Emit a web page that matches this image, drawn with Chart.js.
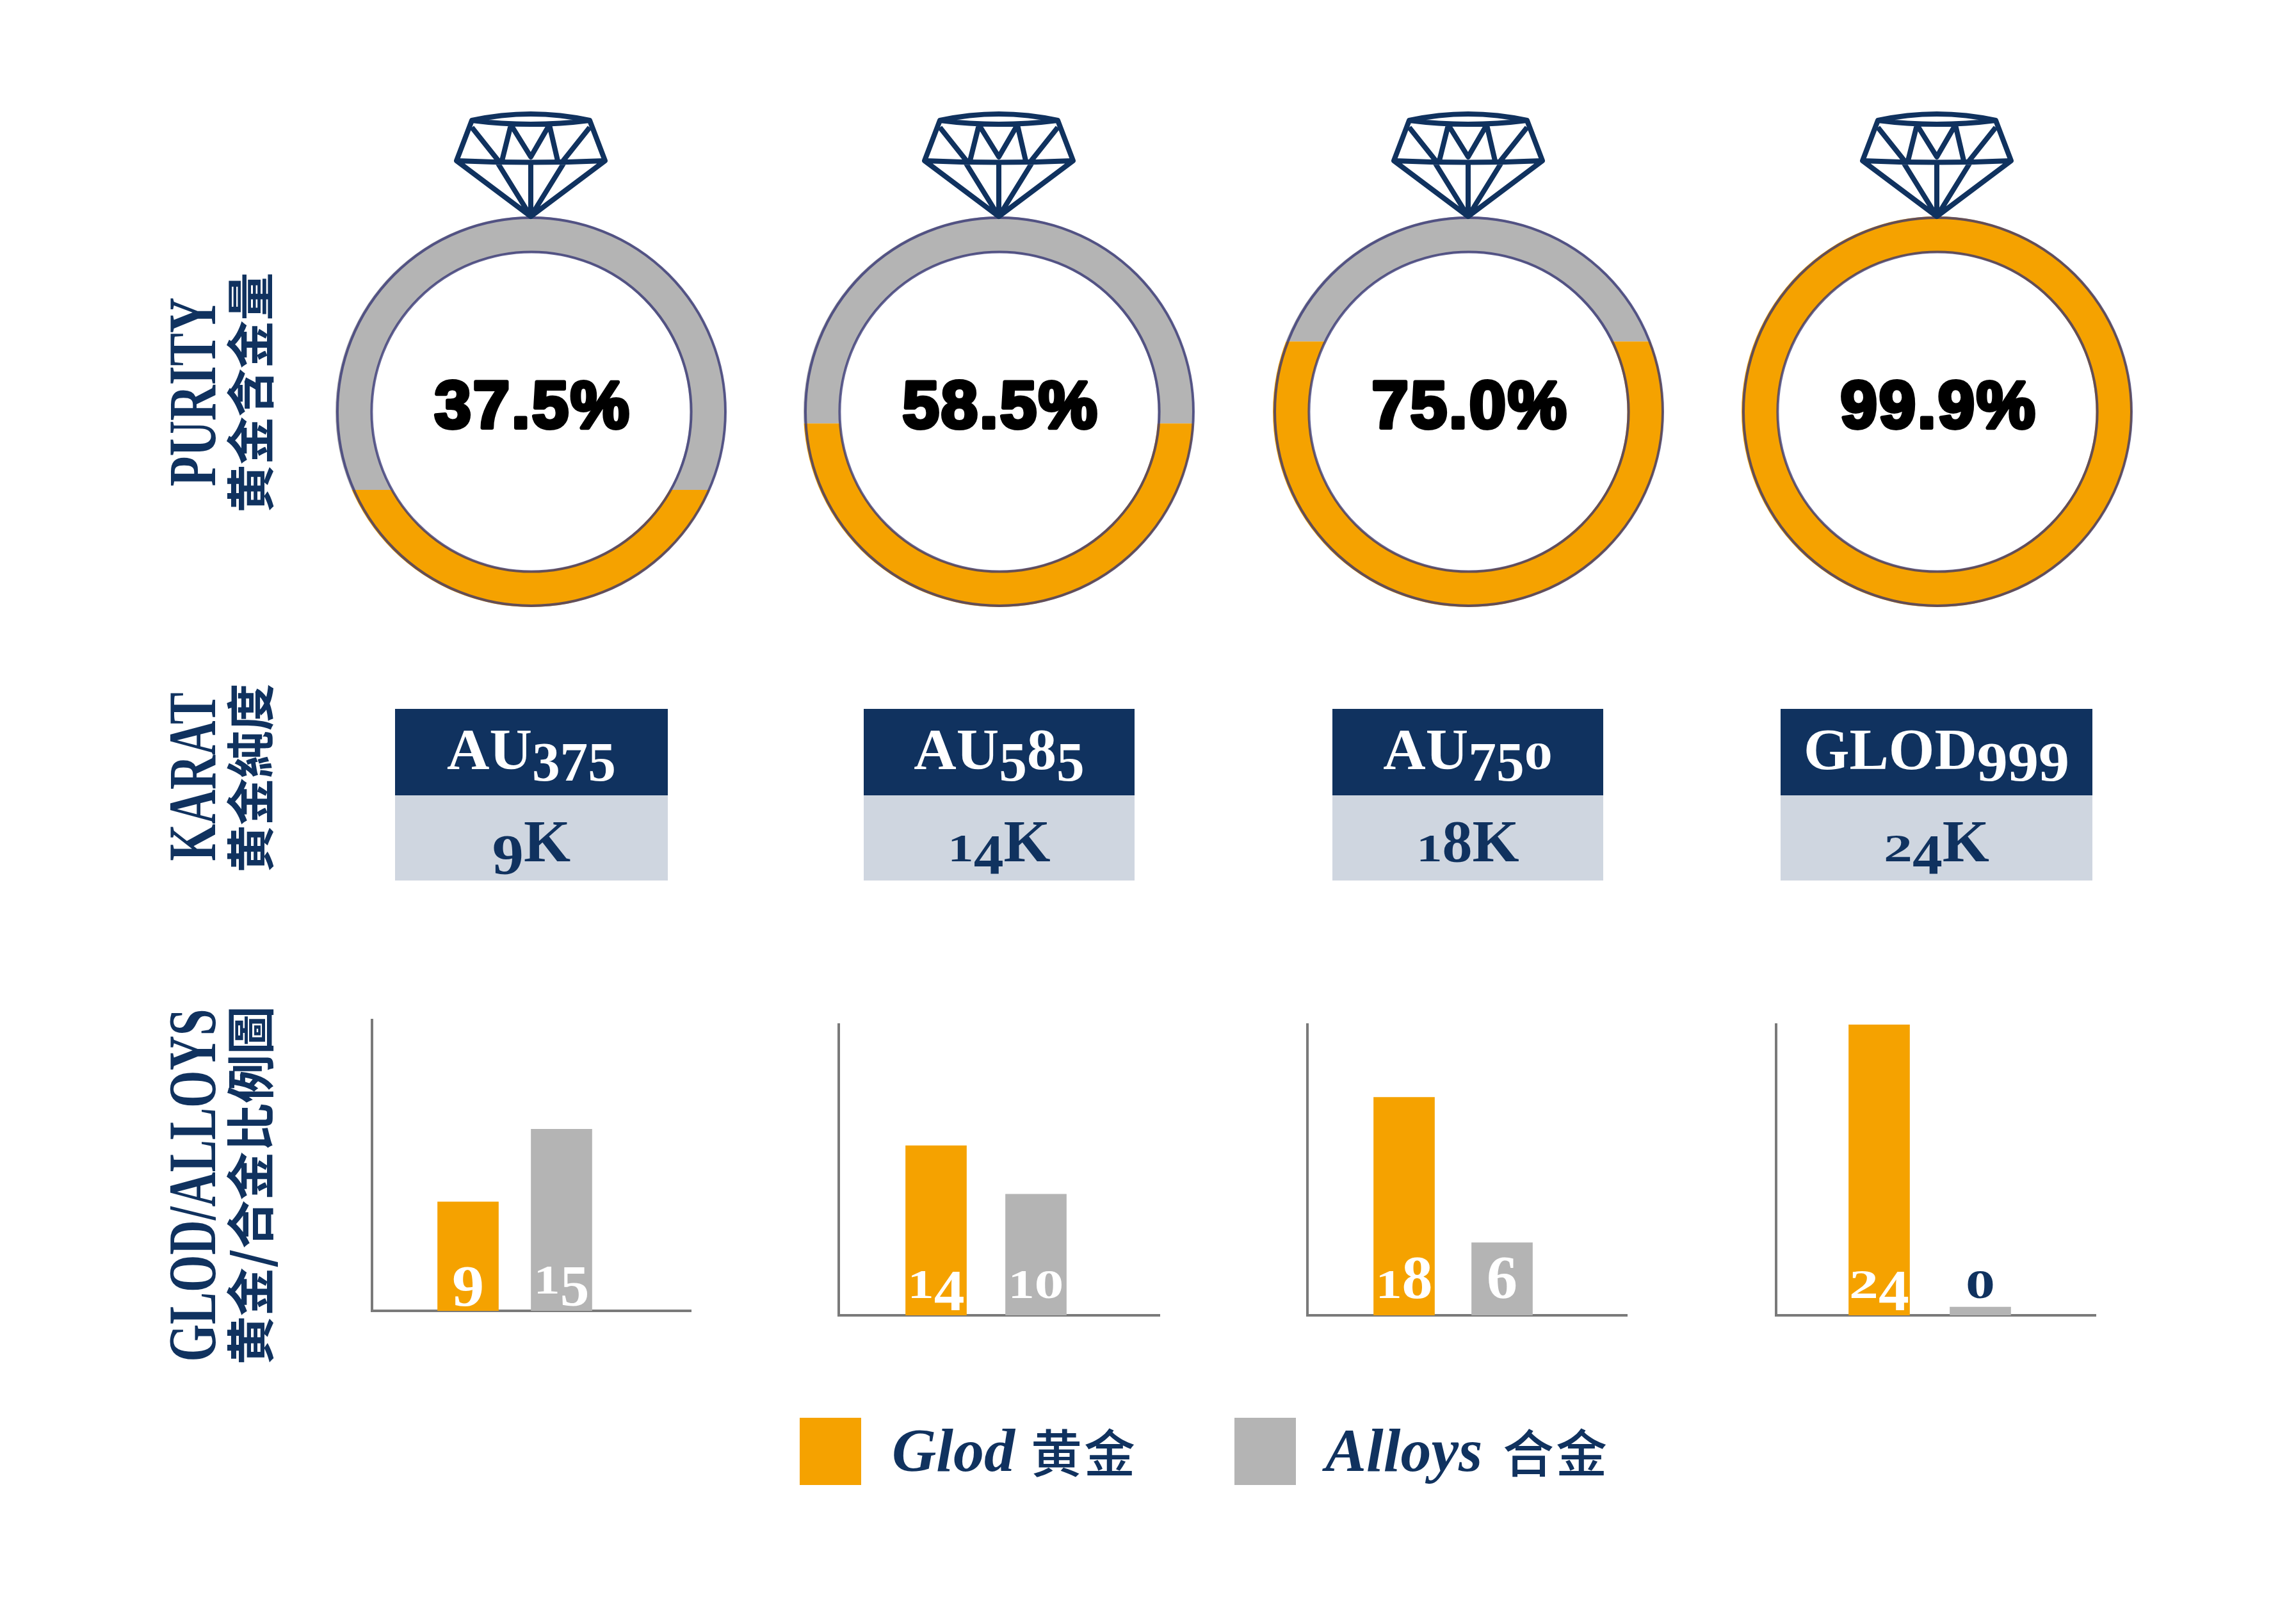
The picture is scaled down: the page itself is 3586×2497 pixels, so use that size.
<!DOCTYPE html>
<html>
<head>
<meta charset="utf-8">
<title>Gold purity</title>
<script src="https://cdn.jsdelivr.net/npm/chart.js@4/dist/chart.umd.min.js"></script>
<style>
  html, body { margin: 0; padding: 0; background: #fff; }
  #page { position: relative; width: 3586px; height: 2497px; overflow: hidden; }
  #page canvas { position: absolute; }
  #labels { position: absolute; left: 0; top: 0; }
</style>
</head>
<body>
<div id="page">
  <svg id="labels" width="3586" height="2497" xmlns="http://www.w3.org/2000/svg"></svg>
</div>
<script>
// data
const goldPercent = [37.5, 58.5, 75.0, 99.9];
const alloyPercent = [62.5, 41.5, 25.0, 0.1];
const fillLevel = [30, 47, 68, 100]; // how high the gold sits in the ring, % of ring height
const assayNames = ['AU375', 'AU585', 'AU750', 'GLOD999'];
const karatNames = ['9K', '14K', '18K', '24K'];
const goldKarats = [9, 14, 18, 24];
const alloyKarats = [15, 10, 6, 0];
const seriesNames = ['Glod', 'Alloys'];
const seriesNamesCn = ['黄金', '合金'];

const GOLD = '#f5a200';
const GREY = '#b4b4b4';
const NAVY = '#10325f';
const PALE = '#cfd6e0';
const AXIS = '#7a7a7a';
const RING_LINE = 'rgba(50, 50, 115, 0.75)';
const SERIF = '"Liberation Serif", serif';
const CJK = '"Noto Sans CJK TC", "Noto Sans CJK SC", sans-serif';

// page layout
const ringX = [829, 1560, 2293, 3025];
const ringTop = 338;
const ringRadius = 305;
const boxX = [[617, 1043], [1349, 1772], [2081, 2504], [2781, 3268]];
const panels = [
  { axis: 581, right: 1079, top: 1593, base: 2047, gold: 731, grey: 877 },
  { axis: 1310, right: 1811, top: 1600, base: 2054, gold: 1462, grey: 1618 },
  { axis: 2042, right: 2541, top: 1600, base: 2054, gold: 2193, grey: 2346 },
  { axis: 2774, right: 3273, top: 1600, base: 2054, gold: 2935, grey: 3093 }
];

// lining digits of the serif font pushed around to look old-style:
// [size, drop below the baseline, widen]
const digitLook = {
  0: [0.66, 0, 1.45], 1: [0.66, 0, 1.3], 2: [0.66, 0, 1.45], 3: [0.95, 0.2, 1], 4: [0.95, 0.2, 1.05],
  5: [0.95, 0.2, 1], 6: [1, 0, 1], 7: [0.95, 0.2, 1], 8: [1, 0, 1], 9: [0.95, 0.2, 1.1]
};

function oldStyleSpans(text, size) {
  let prevDrop = 0;
  let out = '';
  for (const ch of text) {
    const [scale, drop, widen] = digitLook[ch] || [1, 0, 1];
    const dy = (drop - prevDrop) * size;
    const stretch = widen !== 1
      ? ' textLength="' + 0.5 * size * scale * widen + '" lengthAdjust="spacingAndGlyphs"' : '';
    out += '<tspan font-size="' + size * scale + '" dy="' + dy + '"' + stretch + '>' + ch + '</tspan>';
    prevDrop = drop;
  }
  return out;
}

function sideLabel(text, x, y, length, family, size, weight) {
  return '<text transform="translate(' + x + ',' + y + ') rotate(-90)" text-anchor="middle"' +
    ' textLength="' + length + '" lengthAdjust="spacingAndGlyphs" font-family=\'' + family + '\'' +
    ' font-size="' + size + '" font-weight="' + weight + '" fill="' + NAVY + '">' + text + '</text>';
}

function drawLabels() {
  let svg = '';
  svg += sideLabel('PURITY', 336, 612, 295, SERIF, 106, 700);
  svg += sideLabel('黄金含金量', 420, 613, 375, CJK, 76, 700);
  svg += sideLabel('KARAT', 336, 1213, 263, SERIF, 106, 700);
  svg += sideLabel('黄金純度', 420, 1215, 295, CJK, 76, 700);
  svg += sideLabel('GLOD/ALLOYS', 336, 1851, 551, SERIF, 106, 700);
  svg += sideLabel('黄金/合金比例圖', 420, 1851, 560, CJK, 76, 700);

  assayNames.forEach((name, i) => {
    const [l, r] = boxX[i];
    const mid = (l + r) / 2;
    svg += '<rect x="' + l + '" y="1107" width="' + (r - l) + '" height="135" fill="' + NAVY + '"/>';
    svg += '<rect x="' + l + '" y="1242" width="' + (r - l) + '" height="133" fill="' + PALE + '"/>';
    svg += '<text x="' + mid + '" y="1201" text-anchor="middle" font-family=\'' + SERIF + '\' font-weight="700" font-size="92" fill="#fff">' +
      oldStyleSpans(name, 92) + '</text>';
    svg += '<text x="' + mid + '" y="1345" text-anchor="middle" font-family=\'' + SERIF + '\' font-weight="700" font-size="94" fill="' + NAVY + '">' +
      oldStyleSpans(karatNames[i], 94) + '</text>';
  });

  // legend
  [[1249, 1393, 1610, GOLD], [1928, 2070, 2347, GREY]].forEach((row, i) => {
    svg += '<rect x="' + row[0] + '" y="2214" width="96" height="105" fill="' + row[3] + '"/>';
    svg += '<text x="' + row[1] + '" y="2297" font-family=\'' + SERIF + '\' font-style="italic" font-weight="700" font-size="96" fill="' + NAVY + '">' + seriesNames[i] + '</text>';
    svg += '<text x="' + row[2] + '" y="2299" font-family=\'' + CJK + '\' font-weight="500" font-size="80" letter-spacing="3" fill="' + NAVY + '">' + seriesNamesCn[i] + '</text>';
  });
  document.getElementById('labels').innerHTML = svg;
}

const DIAMOND = new Path2D(
  'M-92 -150 Q0 -170 92 -150 L116 -87 L0 0 L-116 -87 Z' +
  'M-92 -150 Q0 -138 92 -150' +
  'M-116 -87 Q0 -82 116 -87' +
  'M-92 -139 L-49 -85 M92 -139 L49 -85' +
  'M-31 -143 L0 -93 L29 -143 M-31 -143 L-45 -87 M29 -143 L42 -87' +
  'M-52 -84 L0 0 L52 -84 M0 -87 L0 0'
);

// gold fills the ring up to a flat line, the rest stays grey
const ringFill = {
  id: 'ringFill',
  beforeDatasetDraw(chart, args, opts) {
    const ctx = chart.ctx;
    const [goldArc, alloyArc] = chart.getDatasetMeta(0).data;
    const { x, y, outerRadius: R, innerRadius: r } = goldArc;
    const cutY = y + R - 2 * R * opts.level / 100;

    const paint = (arc, top, bottom) => {
      ctx.save();
      ctx.beginPath();
      ctx.rect(x - R - 1, top, 2 * R + 2, bottom - top);
      ctx.clip();
      ctx.beginPath();
      ctx.arc(x, y, R, 0, Math.PI * 2);
      ctx.arc(x, y, r, 0, Math.PI * 2, true);
      ctx.fillStyle = arc.options.backgroundColor;
      ctx.fill();
      ctx.restore();
    };
    paint(alloyArc, y - R - 1, cutY);
    paint(goldArc, cutY, y + R + 1);

    ctx.save();
    ctx.strokeStyle = RING_LINE;
    ctx.lineWidth = 4;
    ctx.beginPath();
    ctx.arc(x + 1, y, R - 2, 0, Math.PI * 2);
    ctx.stroke();
    ctx.beginPath();
    ctx.arc(x + 1, y, r + 1, 0, Math.PI * 2);
    ctx.stroke();

    ctx.translate(x, y - R);
    ctx.strokeStyle = NAVY;
    ctx.lineWidth = 8;
    ctx.lineJoin = 'round';
    ctx.stroke(DIAMOND);
    ctx.restore();

    ctx.save();
    ctx.font = 'bold 103px "Liberation Sans", sans-serif';
    ctx.letterSpacing = '3px';
    ctx.textAlign = 'center';
    ctx.textBaseline = 'alphabetic';
    ctx.fillStyle = '#000';
    ctx.strokeStyle = '#000';
    ctx.lineWidth = 6;
    ctx.lineJoin = 'round';
    const label = chart.data.datasets[0].data[0].toFixed(1) + '%';
    ctx.fillText(label, x + 3, y + 25);
    ctx.strokeText(label, x + 3, y + 25);
    ctx.restore();
    return false;
  }
};

// number sitting on the foot of each bar
const barFigures = {
  id: 'barFigures',
  afterDatasetsDraw(chart) {
    const ctx = chart.ctx;
    const size = 96;
    const baseline = chart.scales.y.getPixelForValue(0) - 27;
    chart.data.datasets.forEach((set, d) => {
      const bar = chart.getDatasetMeta(d).data[0];
      const text = String(set.data[0].y);
      const chars = [...text].map(ch => {
        const [scale, drop, widen] = digitLook[ch];
        ctx.font = 'bold ' + size * scale + 'px ' + SERIF;
        return { ch, font: ctx.font, drop: drop * size, widen, w: ctx.measureText(ch).width * widen };
      });
      let x = bar.x - chars.reduce((sum, c) => sum + c.w, 0) / 2;
      ctx.textBaseline = 'alphabetic';
      ctx.fillStyle = set.data[0].y === 0 ? NAVY : '#fff';
      chars.forEach(c => {
        ctx.save();
        ctx.font = c.font;
        ctx.translate(x, baseline + c.drop);
        ctx.scale(c.widen, 1);
        ctx.fillText(c.ch, 0, 0);
        ctx.restore();
        x += c.w;
      });
    });
  }
};

function addCanvas(left, top, width, height) {
  const canvas = document.createElement('canvas');
  canvas.width = width;
  canvas.height = height;
  canvas.style.left = left + 'px';
  canvas.style.top = top + 'px';
  canvas.style.width = width + 'px';
  canvas.style.height = height + 'px';
  document.getElementById('page').appendChild(canvas);
  return canvas;
}

function drawRing(i) {
  const pad = 8;
  const headroom = 190;
  const size = ringRadius * 2;
  const canvas = addCanvas(ringX[i] - ringRadius - pad, ringTop - headroom, size + pad * 2, size + headroom + pad);
  new Chart(canvas, {
    type: 'doughnut',
    data: {
      labels: seriesNames,
      datasets: [{
        data: [goldPercent[i], alloyPercent[i]],
        backgroundColor: [GOLD, GREY],
        borderWidth: 0
      }]
    },
    options: {
      responsive: false,
      animation: false,
      devicePixelRatio: 1,
      cutout: '81.5%',
      layout: { padding: { top: headroom, left: pad, right: pad, bottom: pad } },
      plugins: {
        legend: { display: false },
        tooltip: { enabled: false },
        ringFill: { level: fillLevel[i] }
      }
    },
    plugins: [ringFill]
  });
}

function drawBars(i) {
  const p = panels[i];
  const pad = 6;
  const pitch = p.grey - p.gold;
  const xMin = 1 - (p.gold - p.axis) / pitch;
  const xMax = xMin + (p.right - p.axis) / pitch;
  const canvas = addCanvas(p.axis - pad, p.top - pad, p.right - p.axis + pad * 2, p.base - p.top + pad * 2);
  new Chart(canvas, {
    type: 'bar',
    data: {
      datasets: [
        { label: seriesNames[0], data: [{ x: 1, y: goldKarats[i] }], backgroundColor: GOLD },
        { label: seriesNames[1], data: [{ x: 2, y: alloyKarats[i] }], backgroundColor: GREY }
      ]
    },
    options: {
      responsive: false,
      animation: false,
      devicePixelRatio: 1,
      layout: { padding: pad },
      datasets: { bar: { grouped: false, barThickness: 95, maxBarThickness: 95, minBarLength: 13 } },
      plugins: { legend: { display: false }, tooltip: { enabled: false } },
      scales: {
        x: {
          type: 'linear',
          offset: false,
          min: xMin,
          max: xMax,
          ticks: { display: false },
          grid: { display: false, drawTicks: false },
          border: { display: true, color: AXIS, width: 4 }
        },
        y: {
          min: 0,
          max: 24,
          ticks: { display: false },
          grid: { display: false, drawTicks: false },
          border: { display: true, color: AXIS, width: 4 }
        }
      }
    },
    plugins: [barFigures]
  });
}

drawLabels();
goldPercent.forEach((_, i) => drawRing(i));
panels.forEach((_, i) => drawBars(i));
</script>
</body>
</html>
